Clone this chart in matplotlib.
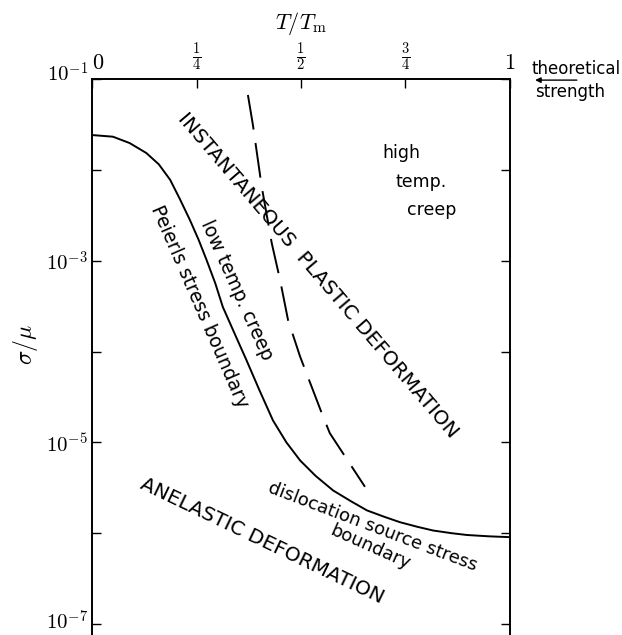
import matplotlib
matplotlib.use("Agg")
import matplotlib.pyplot as plt
from matplotlib.ticker import FixedLocator, FixedFormatter, NullLocator
from matplotlib.transforms import ScaledTranslation

plt.rcParams['mathtext.fontset'] = 'cm'
plt.rcParams['font.family'] = ['DejaVu Sans']

# ---- data ----
T_solid = [0.0, 0.05, 0.09, 0.13, 0.16, 0.187, 0.21, 0.234, 0.255, 0.274, 0.295,
           0.313, 0.34, 0.37, 0.40, 0.433, 0.465, 0.498, 0.535, 0.577, 0.62,
           0.658, 0.70, 0.737, 0.78, 0.816, 0.86, 0.897, 0.95, 1.0]
sigma_solid = [2.415e-2, 2.317e-2, 1.972e-2, 1.531e-2, 1.148e-2, 7.76e-3, 4.79e-3,
               2.82e-3, 1.70e-3, 1.02e-3, 5.62e-4, 3.09e-4, 1.62e-4, 7.94e-5,
               3.80e-5, 1.74e-5, 1.00e-5, 6.31e-6, 4.27e-6, 2.95e-6, 2.24e-6,
               1.78e-6, 1.51e-6, 1.32e-6, 1.17e-6, 1.07e-6, 1.00e-6, 9.55e-7,
               9.23e-7, 9.04e-7]

T_dash = [0.373, 0.385, 0.406, 0.430, 0.450, 0.469, 0.498, 0.553, 0.569, 0.653]
sigma_dash = [6.67e-2, 3.11e-2, 6.52e-3, 1.56e-3, 6.11e-4, 2.22e-4, 8.75e-5,
              1.91e-5, 1.26e-5, 3.24e-6]

x_ticks = [0, 0.25, 0.5, 0.75, 1]
x_tick_labels = [r'$0$', r'$\frac{1}{4}$', r'$\frac{1}{2}$', r'$\frac{3}{4}$', r'$1$']
y_ticks = [1e-1, 1e-2, 1e-3, 1e-4, 1e-5, 1e-6, 1e-7]
y_tick_labels = [r'$10^{-1}$', '', r'$10^{-3}$', '', r'$10^{-5}$', '', r'$10^{-7}$']

# ---- figure ----
fig = plt.figure(figsize=(6.22, 6.35), dpi=100)
ax = fig.add_axes([92/622, 0, 418/622, 556/635])
ax.set_yscale('log')
ax.set_xlim(0, 1)
ax.set_ylim(10**-7.121, 1e-1)

ax.plot(T_solid, sigma_solid, color='black', lw=1.4, solid_capstyle='butt')
ax.plot(T_dash, sigma_dash, color='black', lw=1.4, linestyle=(0, (18, 7)))

for s in ['left', 'right', 'top']:
    ax.spines[s].set_linewidth(1.4)
ax.spines['bottom'].set_visible(False)

ax.xaxis.tick_top()
ax.xaxis.set_major_locator(FixedLocator(x_ticks))
ax.xaxis.set_major_formatter(FixedFormatter(x_tick_labels))
ax.xaxis.set_minor_locator(NullLocator())
ax.tick_params(axis='x', which='major', direction='in', length=6.5, width=1.0,
               pad=4, labelsize=15, top=True, bottom=False)

ax.yaxis.set_major_locator(FixedLocator(y_ticks))
ax.yaxis.set_major_formatter(FixedFormatter(y_tick_labels))
ax.yaxis.set_minor_locator(NullLocator())
ax.tick_params(axis='y', which='major', direction='in', length=6.5, width=1.0,
               pad=3, labelsize=15, left=True, right=True)

fig.canvas.draw()
xl = ax.get_xticklabels()
for i, lab in enumerate(xl):
    if i in (0, 4):
        lab.set_fontsize(16)
xl[0].set_horizontalalignment('left')
yl = ax.get_yticklabels()
yl[0].set_transform(yl[0].get_transform() + ScaledTranslation(0, 5/72, fig.dpi_scale_trans))
yl[-1].set_transform(yl[-1].get_transform() + ScaledTranslation(0, 3/72, fig.dpi_scale_trans))

# axis labels
ax.text(0.5, 1.1007, r'$T/T_{\rm m}$', transform=ax.transAxes, ha='center', va='center', fontsize=16)
ax.text(-0.160, 0.5216, r'$\sigma/\mu$', transform=ax.transAxes, ha='center', va='center',
        fontsize=17, rotation=90)

# theoretical strength note
ax.text(1.0526, 1.018, 'theoretical', transform=ax.transAxes, ha='left', va='center',
        fontsize=12, clip_on=False)
ax.text(1.0598, 0.9766, 'strength', transform=ax.transAxes, ha='left', va='center',
        fontsize=12, clip_on=False)
ax.annotate('', xy=(1.060, 0.998), xytext=(1.160, 0.998), xycoords='axes fraction',
            textcoords='axes fraction',
            arrowprops=dict(arrowstyle='-|>', color='black', lw=1.0,
                            mutation_scale=8, shrinkA=0, shrinkB=0),
            annotation_clip=False)

# region labels
kw = dict(transform=ax.transAxes, ha='center', va='center', rotation_mode='anchor', color='black')
ax.text(0.5395, 0.6475, 'INSTANTANEOUS  PLASTIC DEFORMATION', rotation=-49.5, fontsize=14.5, **kw)
ax.text(0.347, 0.6205, 'low temp. creep', rotation=-65.8, fontsize=13.5, **kw)
ax.text(0.258, 0.5908, 'Peierls stress boundary', rotation=-66.5, fontsize=13.5, **kw)
ax.text(0.6711, 0.1942, 'dislocation source stress', rotation=-20.8, fontsize=13, **kw)
ax.text(0.6651, 0.1583, 'boundary', rotation=-24, fontsize=13, **kw)
ax.text(0.4079, 0.1691, 'ANELASTIC DEFORMATION', rotation=-25.6, fontsize=14.5, **kw)

kw2 = dict(transform=ax.transAxes, ha='left', va='center', fontsize=12.5, color='black')
ax.text(0.6938, 0.8669, 'high', **kw2)
ax.text(0.7249, 0.8147, 'temp.', **kw2)
ax.text(0.7536, 0.7644, 'creep', **kw2)

fig.savefig('out.png', dpi=100)
